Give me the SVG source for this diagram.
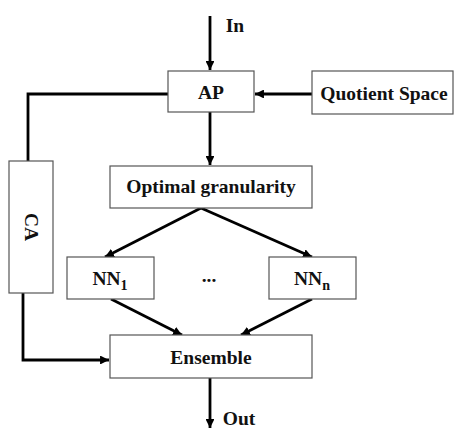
<svg xmlns="http://www.w3.org/2000/svg" width="455" height="429" viewBox="0 0 455 429">
<style>
.box{fill:#fff;stroke:#555;stroke-width:1.2}
.t{font-family:"Liberation Serif","Times New Roman",serif;font-weight:bold;font-size:19.5px;fill:#111;text-anchor:middle}
.c{fill:none;stroke:#000;stroke-width:2.8}
</style>
<defs>
<marker id="ah" viewBox="0 0 10 10" refX="10" refY="5" markerWidth="3.2" markerHeight="3.2" orient="auto" markerUnits="strokeWidth">
<path d="M0,0 L10,5 L0,10 z" fill="#000"/>
</marker>
</defs>
<rect width="455" height="429" fill="#fff"/>
<g id="connectors">
<line class="c" x1="210" y1="16" x2="210" y2="70" marker-end="url(#ah)"/>
<line class="c" x1="312" y1="94" x2="255" y2="94" marker-end="url(#ah)"/>
<polyline class="c" points="168,94 28,94 28,161"/>
<line class="c" x1="210" y1="112" x2="210" y2="165" marker-end="url(#ah)"/>
<line class="c" x1="201" y1="208" x2="105" y2="257" marker-end="url(#ah)"/>
<line class="c" x1="201" y1="208" x2="312" y2="257" marker-end="url(#ah)"/>
<line class="c" x1="111" y1="299" x2="182" y2="335" marker-end="url(#ah)"/>
<line class="c" x1="312" y1="299" x2="241" y2="335" marker-end="url(#ah)"/>
<polyline class="c" points="23,293 23,360 109,360" marker-end="url(#ah)"/>
<line class="c" x1="210" y1="378" x2="210" y2="428" marker-end="url(#ah)"/>
</g>
<text class="t" x="235" y="32">In</text>
<text class="t" x="239" y="425">Out</text>
<g id="AP"><rect class="box" x="168" y="71" width="86" height="41"/><text class="t" x="211" y="99">AP</text></g>
<g id="QuotientSpace"><rect class="box" x="312" y="71" width="141" height="43"/><text class="t" x="384" y="100">Quotient Space</text></g>
<g id="OptimalGranularity"><rect class="box" x="110" y="166" width="202" height="42"/><text class="t" x="211" y="193">Optimal granularity</text></g>
<g id="CA"><rect class="box" x="9" y="161" width="44" height="132"/><text class="t" transform="translate(25,227) rotate(90)" x="0" y="0">CA</text></g>
<g id="NN1"><rect class="box" x="67" y="257" width="87" height="42"/><text class="t" x="110" y="285">NN<tspan font-size="14" dy="5">1</tspan></text></g>
<g id="dots"><text class="t" x="209" y="282">...</text></g>
<g id="NNn"><rect class="box" x="269" y="257" width="87" height="42"/><text class="t" x="312" y="285">NN<tspan font-size="14" dy="5">n</tspan></text></g>
<g id="Ensemble"><rect class="box" x="110" y="335" width="202" height="43"/><text class="t" x="211" y="364">Ensemble</text></g>
</svg>
